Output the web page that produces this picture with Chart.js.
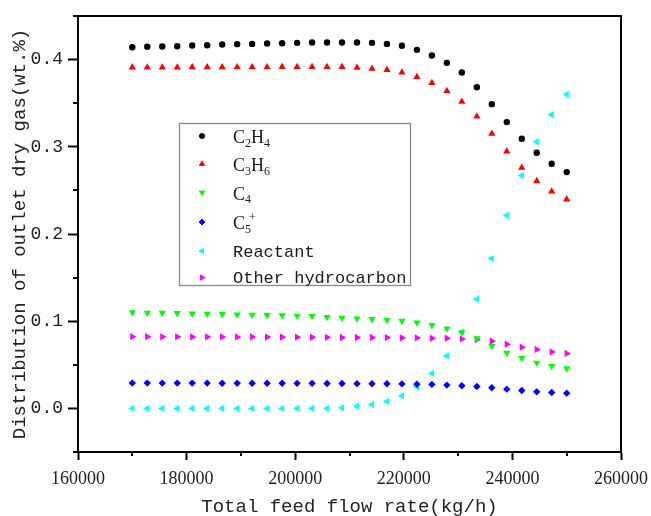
<!DOCTYPE html>
<html>
<head>
<meta charset="utf-8">
<script src="https://cdn.jsdelivr.net/npm/chart.js@4.4.1/dist/chart.umd.min.js"></script>
<style>
html,body{margin:0;padding:0;background:#fff;}
#wrap{width:651px;height:516px;}
</style>
</head>
<body>
<div id="wrap"><canvas id="c" width="651" height="516"></canvas></div>
<script>
// total feed flow rate (kg/h), 30 points from 170000 to 250000
const flowRate = [170000, 172759, 175517, 178276, 181034, 183793, 186552, 189310, 192069, 194828,
  197586, 200345, 203103, 205862, 208621, 211379, 214138, 216897, 219655, 222414,
  225172, 227931, 230690, 233448, 236207, 238966, 241724, 244483, 247241, 250000];

const c2h4 = [0.4142, 0.4147, 0.4150, 0.4153, 0.4162, 0.4165, 0.4173, 0.4177, 0.4180, 0.4184,
  0.4188, 0.4192, 0.4196, 0.4196, 0.4196, 0.4196, 0.4192, 0.4180, 0.4158, 0.4112,
  0.4047, 0.3963, 0.3852, 0.3684, 0.3489, 0.3283, 0.3093, 0.2932, 0.2806, 0.2710];
const c3h6 = [0.3910, 0.3910, 0.3911, 0.3911, 0.3912, 0.3912, 0.3913, 0.3913, 0.3914, 0.3914,
  0.3915, 0.3915, 0.3915, 0.3915, 0.3915, 0.3907, 0.3896, 0.3881, 0.3854, 0.3801,
  0.3733, 0.3641, 0.3517, 0.3348, 0.3150, 0.2947, 0.2761, 0.2607, 0.2489, 0.2398];
const c4 = [0.1101, 0.1097, 0.1095, 0.1092, 0.1088, 0.1084, 0.1080, 0.1077, 0.1074, 0.1070,
  0.1066, 0.1062, 0.1058, 0.1047, 0.1038, 0.1031, 0.1023, 0.1015, 0.1003, 0.0985,
  0.0954, 0.0916, 0.0871, 0.0802, 0.0717, 0.0637, 0.0576, 0.0522, 0.0485, 0.0458];
const c5plus = [0.0290, 0.0290, 0.0290, 0.0290, 0.0290, 0.0290, 0.0289, 0.0289, 0.0289, 0.0288,
  0.0288, 0.0287, 0.0287, 0.0286, 0.0285, 0.0284, 0.0283, 0.0282, 0.0281, 0.0278,
  0.0275, 0.0267, 0.0259, 0.0252, 0.0236, 0.0221, 0.0206, 0.0190, 0.0183, 0.0175];
const reactant = [0, 0, 0, 0, 0, 0, 0, 0, 0, 0,
  0, 0, 0, 0.0000, 0.0007, 0.0026, 0.0046, 0.0080, 0.0144, 0.0247,
  0.0401, 0.0602, 0.0877, 0.1252, 0.1718, 0.2214, 0.2672, 0.3058, 0.3368, 0.3600];
const otherHc = [0.0822, 0.0822, 0.0821, 0.0821, 0.0820, 0.0820, 0.0820, 0.0819, 0.0819, 0.0818,
  0.0818, 0.0817, 0.0816, 0.0815, 0.0813, 0.0813, 0.0813, 0.0812, 0.0809, 0.0809,
  0.0805, 0.0805, 0.0797, 0.0790, 0.0771, 0.0737, 0.0702, 0.0676, 0.0648, 0.0630];

const seriesLabels = ['C_2H_4', 'C_3H_6', 'C_4', 'C_5^+', 'Reactant', 'Other hydrocarbon'];
const seriesColors = ['#000000', '#ff0000', '#00ff00', '#0000ff', '#00ffff', '#ff00ff'];

const xTicks = [160000, 180000, 200000, 220000, 240000, 260000];
const xMinor = [170000, 190000, 210000, 230000, 250000];
const yTicks = [0, 0.1, 0.2, 0.3, 0.4];
const yMinor = [-0.05, 0.05, 0.15, 0.25, 0.35, 0.45];

const MONO = '"Liberation Mono", "DejaVu Sans Mono", monospace';
const SERIF = '"Liberation Serif", "DejaVu Serif", serif';

const markers = [
  { pointStyle: 'circle', rotation: 0, radius: 3.2 },
  { pointStyle: 'triangle', rotation: 0, radius: 4.2 },
  { pointStyle: 'triangle', rotation: 180, radius: 4.2 },
  { pointStyle: 'rectRot', rotation: 0, radius: 3.7 },
  { pointStyle: 'triangle', rotation: 270, radius: 4.2 },
  { pointStyle: 'triangle', rotation: 90, radius: 4.2 },
];

const allSeries = [c2h4, c3h6, c4, c5plus, reactant, otherHc];

function pts(arr){ return flowRate.map((x,i)=>({x, y: arr[i]})); }

// draw text with _x subscripts and ^x superscripts
function drawRich(ctx, str, x, y, size, family){
  let cx = x, lastSubX = null;
  for (let i=0; i<str.length; i++){
    const ch = str[i];
    if ((ch==='_' || ch==='^') && i+1<str.length){
      const s = Math.round(size*0.66);
      ctx.font = `${s}px ${family}`;
      const t = str[i+1];
      if (ch==='_'){
        lastSubX = cx;
        ctx.fillText(t, cx, y + size*0.22);
      } else {
        const sx = lastSubX!=null ? cx - 2 : cx;
        ctx.fillText(t, sx, y - size*0.42);
      }
      cx += ctx.measureText(t).width;
      i++;
    } else {
      ctx.font = `${size}px ${family}`;
      ctx.fillText(ch, cx, y);
      cx += ctx.measureText(ch).width;
      lastSubX = null;
    }
  }
}

const framePlugin = {
  id: 'frameLegend',
  afterDraw(chart){
    const { ctx, chartArea: a, scales } = chart;
    ctx.save();
    ctx.strokeStyle = '#000';
    ctx.lineWidth = 2;
    ctx.beginPath();
    ctx.moveTo(a.left, a.top); ctx.lineTo(a.right, a.top); ctx.lineTo(a.right, a.bottom);
    ctx.stroke();
    // minor ticks
    ctx.beginPath();
    yMinor.forEach(v=>{ const p = Math.round(scales.y.getPixelForValue(v)); ctx.moveTo(a.left-5, p); ctx.lineTo(a.left, p); });
    xMinor.forEach(v=>{ const p = Math.round(scales.x.getPixelForValue(v)); ctx.moveTo(p, a.bottom); ctx.lineTo(p, a.bottom+4); });
    ctx.stroke();

    // legend
    ctx.fillStyle = '#fff';
    ctx.fillRect(179.5, 123.5, 231, 162);
    ctx.strokeStyle = '#8a8a8a';
    ctx.lineWidth = 1.3;
    ctx.strokeRect(179.5, 123.5, 231, 162);
    const rowY = [136, 164, 192.5, 222, 251, 277.5];
    seriesLabels.forEach((lab, i)=>{
      const m = markers[i];
      ctx.fillStyle = seriesColors[i];
      Chart.helpers.drawPoint(ctx, { pointStyle: m.pointStyle, rotation: m.rotation, radius: m.radius*0.85, borderWidth: 0 }, 202, rowY[i]);
      ctx.fill();
      ctx.fillStyle = '#1a1a1a';
      ctx.textBaseline = 'alphabetic';
      ctx.textAlign = 'left';
      if (/[_^]/.test(lab)) drawRich(ctx, lab, 233, rowY[i]+7, 18, SERIF);
      else { ctx.font = `17px ${MONO}`; ctx.fillText(lab, 233, rowY[i]+5.5); }
    });
    ctx.restore();
  }
};

new Chart(document.getElementById('c'), {
  type: 'scatter',
  data: {
    datasets: allSeries.map((arr, i)=>({
      label: seriesLabels[i],
      data: pts(arr),
      pointStyle: markers[i].pointStyle,
      rotation: markers[i].rotation,
      pointRadius: markers[i].radius,
      pointHoverRadius: markers[i].radius,
      backgroundColor: seriesColors[i],
      borderColor: seriesColors[i],
      pointBorderWidth: 0,
      borderWidth: 0,
    }))
  },
  options: {
    responsive: false,
    animation: false,
    devicePixelRatio: 1,
    layout: { padding: { top: 16, right: 30, left: 0, bottom: 0 } },
    plugins: { legend: { display: false }, tooltip: { enabled: false } },
    scales: {
      x: {
        type: 'linear', min: 160000, max: 260000,
        afterBuildTicks: s => { s.ticks = xTicks.map(v=>({ value: v })); },
        afterFit: s => { s.height = 64; s.paddingLeft = 0; s.paddingRight = 0; },
        ticks: { callback: v => String(v), color: '#222', font: { family: SERIF, size: 18 }, padding: 8, maxRotation: 0, autoSkip: false },
        grid: { drawOnChartArea: false, tickLength: 8, tickWidth: 2, tickColor: '#000' },
        border: { color: '#000', width: 2 },
        title: { display: true, text: 'Total feed flow rate(kg/h)', color: '#222', font: { family: MONO, size: 19 }, padding: { top: 0, bottom: -2 } }
      },
      y: {
        type: 'linear', min: -0.05, max: 0.45,
        afterBuildTicks: s => { s.ticks = yTicks.map(v=>({ value: v })); },
        afterFit: s => { s.width = 78; },
        ticks: { callback: v => Number(v).toFixed(1), color: '#222', font: { family: MONO, size: 18 }, padding: 5, autoSkip: false },
        grid: { drawOnChartArea: false, tickLength: 10, tickWidth: 2, tickColor: '#000' },
        border: { color: '#000', width: 2 },
        title: { display: true, text: 'Distribution of outlet dry gas(wt.%)', color: '#222', font: { family: MONO, size: 19 }, padding: { top: 9, bottom: 0 } }
      }
    }
  },
  plugins: [framePlugin]
});
</script>
</body>
</html>
